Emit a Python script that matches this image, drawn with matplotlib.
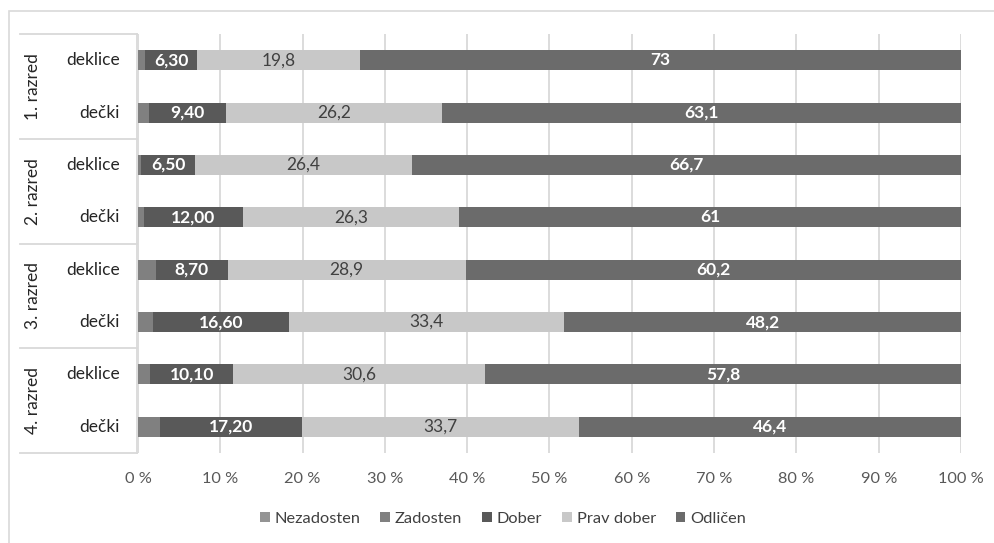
import matplotlib
matplotlib.use("Agg")
import matplotlib.pyplot as plt
from matplotlib.lines import Line2D
from matplotlib.patches import Rectangle

plt.rcParams['font.family'] = ['Lato', 'DejaVu Sans']

groups = ["1. razred", "2. razred", "3. razred", "4. razred"]
subcats = ["deklice", "dečki"]
series = ["Nezadosten", "Zadosten", "Dober", "Prav dober", "Odličen"]
colors = ["#949494", "#808080", "#595959", "#c8c8c8", "#6b6b6b"]

nezadosten = [0.0, 0.0, 0.0, 0.0, 0.0, 0.0, 0.0, 0.0]
zadosten = [0.9, 1.3, 0.4, 0.7, 2.2, 1.8, 1.5, 2.7]
dober = [6.3, 9.4, 6.5, 12.0, 8.7, 16.6, 10.1, 17.2]
prav_dober = [19.8, 26.2, 26.4, 26.3, 28.9, 33.4, 30.6, 33.7]
odlicen = [73, 63.1, 66.7, 61, 60.2, 48.2, 57.8, 46.4]

dober_labels = ["6,30", "9,40", "6,50", "12,00", "8,70", "16,60", "10,10", "17,20"]
prav_labels = ["19,8", "26,2", "26,4", "26,3", "28,9", "33,4", "30,6", "33,7"]
odl_labels = ["73", "63,1", "66,7", "61", "60,2", "48,2", "57,8", "46,4"]
xticks = [0, 10, 20, 30, 40, 50, 60, 70, 80, 90, 100]

W, H = 995, 543
fig = plt.figure(figsize=(W / 100, H / 100), dpi=100)

L, R, T, B = 138, 961, 34, 453
ax = fig.add_axes([L / W, 1 - B / H, (R - L) / W, (B - T) / H])

FS = 12.5
data = [nezadosten, zadosten, dober, prav_dober, odlicen]
n = len(dober)
ys = list(range(n))
left = [0.0] * n
bh = 0.38
for vals, col, name in zip(data, colors, series):
    ax.barh(ys, vals, left=left, height=bh, color=col, label=name, zorder=3)
    if name == "Dober":
        for i in range(n):
            ax.text(left[i] + vals[i] / 2, ys[i], dober_labels[i], ha='center', va='center',
                    color='white', fontweight='bold', fontsize=FS, zorder=4)
    elif name == "Prav dober":
        for i in range(n):
            ax.text(left[i] + vals[i] / 2, ys[i], prav_labels[i], ha='center', va='center',
                    color='#404040', fontsize=FS, zorder=4)
    elif name == "Odličen":
        for i in range(n):
            ax.text(left[i] + vals[i] / 2, ys[i], odl_labels[i], ha='center', va='center',
                    color='white', fontweight='bold', fontsize=FS, zorder=4)
    left = [a + b for a, b in zip(left, vals)]

ax.set_xlim(0, 100)
ax.set_ylim(n - 0.5, -0.5)
ax.set_xticks(xticks)
ax.set_xticklabels([f"{t} %" for t in xticks], color='#595959', fontsize=11.8)
ax.set_yticks([])
ax.tick_params(axis='x', length=0, pad=14)
ax.grid(axis='x', color='#d9d9d9', linewidth=1.3, zorder=0)
for s in ax.spines.values():
    s.set_visible(False)

def fx(px):
    return px / W

def fy(py):
    return 1 - py / H

line_c = '#d9d9d9'
fig.add_artist(Line2D([fx(137), fx(137)], [fy(T), fy(B)], color=line_c, lw=1.3))
band = (B - T) / n
for g in range(len(groups) + 1):
    yy = T + g * 2 * band
    fig.add_artist(Line2D([fx(20), fx(137)], [fy(yy), fy(yy)], color=line_c, lw=1.3))
for g, gname in enumerate(groups):
    yc = T + (g * 2 + 1) * band
    fig.text(fx(33), fy(yc), gname, rotation=90, ha='center', va='center',
             fontsize=FS, color='#262626')
    for j, sc in enumerate(subcats):
        yy = T + (g * 2 + j + 0.5) * band
        fig.text(fx(120), fy(yy), sc, ha='right', va='center', fontsize=FS, color='#262626')

fig.add_artist(Rectangle((fx(9), fy(H + 5)), fx(W + 10 - 9), fy(11) - fy(H + 5),
                         fill=False, edgecolor='#d9d9d9', lw=1.2))

leg = fig.legend(loc='center', bbox_to_anchor=(fx(503), fy(519)), ncol=5, frameon=False,
                 fontsize=11.8, handlelength=0.6, handleheight=0.6, handletextpad=0.3,
                 columnspacing=1.2)
for t in leg.get_texts():
    t.set_color('#404040')

fig.savefig("out.png", dpi=100)
